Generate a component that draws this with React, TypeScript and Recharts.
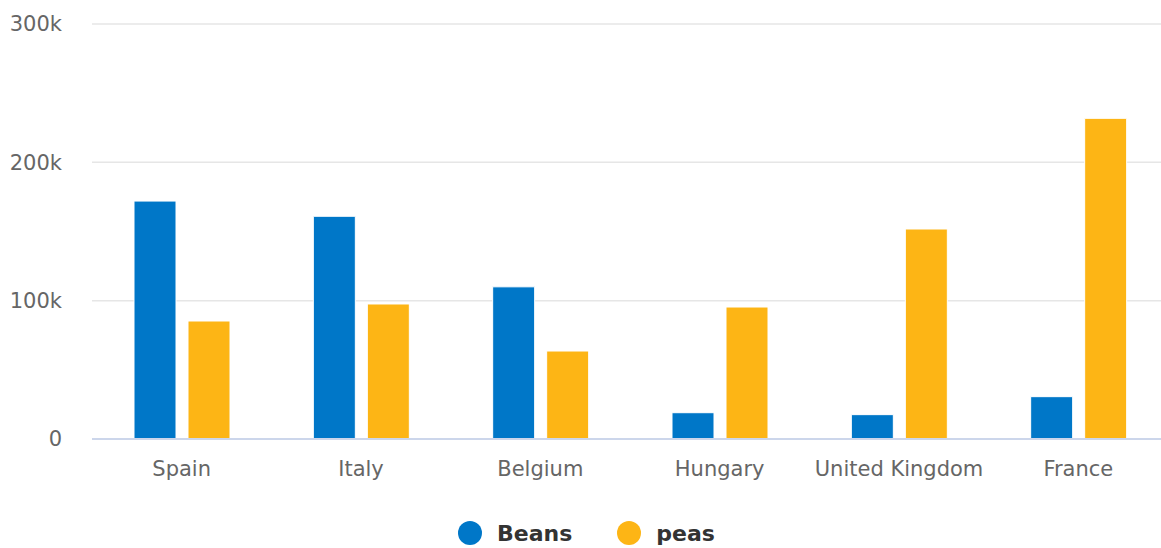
import React from "react";
import {
  BarChart,
  Bar,
  XAxis,
  YAxis,
  CartesianGrid,
  Legend,
} from "recharts";

const countries = ["Spain", "Italy", "Belgium", "Hungary", "United Kingdom", "France"];
const beans = [172000, 161000, 110000, 19000, 17600, 30600];
const peas = [85300, 97600, 63600, 95400, 151800, 231800];
const yTicks = [0, 100000, 200000, 300000];

const BLUE = "#0077C8";
const YELLOW = "#FDB515";

const data = countries.map((name, i) => ({
  name,
  Beans: beans[i],
  peas: peas[i],
}));

const formatK = (v: number) => (v === 0 ? "0" : `${v / 1000}k`);

const LegendContent = (props: any) => {
  const items = props.payload || [];
  return (
    <div
      style={{
        display: "flex",
        justifyContent: "center",
        alignItems: "center",
        height: 36,
        paddingLeft: 12,
        fontFamily: "DejaVu Sans",
        fontWeight: "bold",
        fontSize: 22,
        color: "#333",
      }}
    >
      {items.map((it: any, i: number) => (
        <div
          key={it.value}
          style={{ display: "flex", alignItems: "center", marginLeft: i === 0 ? 0 : 45 }}
        >
          <span
            style={{
              display: "inline-block",
              width: 24,
              height: 24,
              borderRadius: 12,
              background: it.color,
              marginRight: 15,
            }}
          />
          <span>{it.value}</span>
        </div>
      ))}
    </div>
  );
};

const App: React.FC = () => {
  return (
    <div
      style={{
        position: "absolute",
        left: 0,
        top: 0,
        width: 1161,
        height: 548,
        overflow: "hidden",
        background: "#fff",
      }}
    >
      <BarChart
        width={1168}
        height={548}
        data={data}
        margin={{ top: 24, right: 0, left: 0, bottom: 33 }}
        barCategoryGap="20%"
        barGap={12}
        barSize={42}
      >
        <CartesianGrid vertical={false} stroke="#e6e6e6" strokeWidth={1.5} />
        <XAxis
          dataKey="name"
          height={40}
          tickLine={false}
          axisLine={{ stroke: "#ccd6eb", strokeWidth: 2 }}
          tickSize={0}
          tickMargin={22}
          tick={{ fill: "#666", fontSize: 21, fontFamily: "DejaVu Sans" }}
          interval={0}
        />
        <YAxis
          width={92}
          domain={[0, 300000]}
          ticks={yTicks}
          tickFormatter={formatK}
          axisLine={false}
          tickLine={false}
          tickSize={0}
          tickMargin={30}
          tick={{ fill: "#666", fontSize: 21, fontFamily: "DejaVu Sans" }}
        />
        <Legend
          verticalAlign="bottom"
          content={<LegendContent />}
          wrapperStyle={{ top: 515, left: 0, width: 1161 }}
        />
        <Bar dataKey="Beans" fill={BLUE} stroke="#fff" strokeWidth={1} isAnimationActive={false} />
        <Bar dataKey="peas" fill={YELLOW} stroke="#fff" strokeWidth={1} isAnimationActive={false} />
      </BarChart>
    </div>
  );
};

export default App;
